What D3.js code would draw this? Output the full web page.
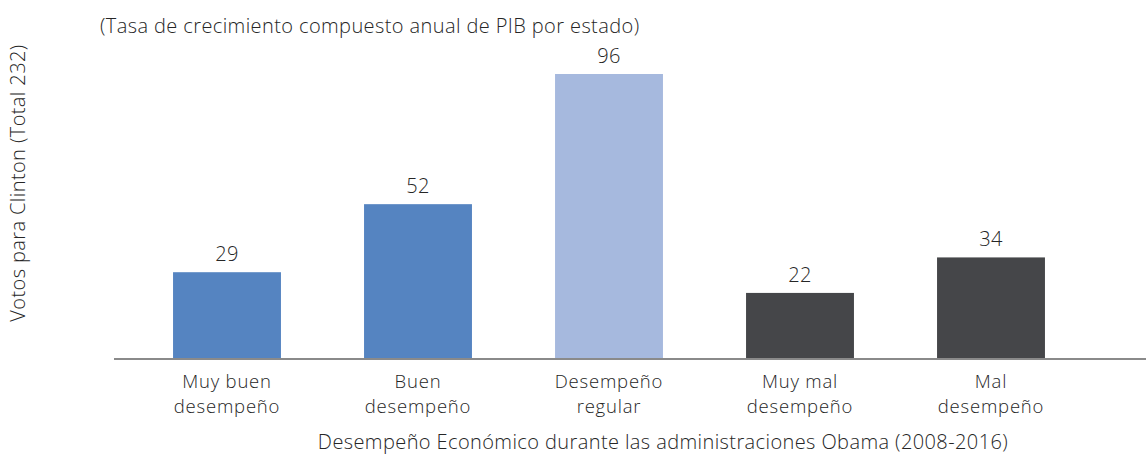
<!DOCTYPE html>
<html>
<head>
<meta charset="utf-8">
<script src="https://cdn.jsdelivr.net/npm/d3@7"></script>
<style>
  body { margin: 0; background: #fff; }
  svg text { font-family: "Open Sans", "Liberation Sans", Arial, sans-serif; font-weight: 300; fill: #262626; letter-spacing: 0.4px; }
  svg text.cat { letter-spacing: 0.8px; }
</style>
</head>
<body>
<div id="chart"></div>
<script>
// Data
const categories = [
    ["Muy buen", "desempeño"],
    ["Buen", "desempeño"],
    ["Desempeño", "regular"],
    ["Muy mal", "desempeño"],
    ["Mal", "desempeño"]
];
const votes = [29, 52, 96, 22, 34];
const barColors = ["#5584c1", "#5584c1", "#a6b9de", "#454649", "#454649"];

const width = 1146, height = 456;
const baseY = 358;
const fontSize = 20;

const svg = d3.select("#chart").append("svg")
    .attr("width", width)
    .attr("height", height);

// Scales
const x = d3.scaleBand()
    .domain(d3.range(categories.length))
    .range([131.5, 1086.5])
    .paddingInner(0.435)
    .paddingOuter(0.2175);

const y = d3.scaleLinear()
    .domain([0, 96])
    .range([baseY, 74]);

// Bars
svg.selectAll("rect.bar")
    .data(votes)
    .join("rect")
    .attr("class", "bar")
    .attr("x", (d, i) => x(i))
    .attr("y", d => y(d))
    .attr("width", x.bandwidth())
    .attr("height", d => y(0) - y(d))
    .attr("fill", (d, i) => barColors[i]);

// Value labels
svg.selectAll("text.val")
    .data(votes)
    .join("text")
    .attr("class", "val")
    .attr("x", (d, i) => x(i) + x.bandwidth() / 2)
    .attr("y", d => y(d) - 11)
    .attr("text-anchor", "middle")
    .attr("font-size", fontSize)
    .text(d => d);

// Baseline
svg.append("line")
    .attr("x1", 114).attr("x2", width)
    .attr("y1", baseY + 1).attr("y2", baseY + 1)
    .attr("stroke", "#8a8a8a")
    .attr("stroke-width", 2);

// Category labels, two lines each
const catG = svg.selectAll("text.cat")
    .data(categories)
    .join("text")
    .attr("class", "cat")
    .attr("text-anchor", "middle")
    .attr("font-size", 18.5)
    .attr("transform", (d, i) => `translate(${x(i) + x.bandwidth() / 2},${388})`);
catG.selectAll("tspan")
    .data(d => d)
    .join("tspan")
    .attr("x", 0)
    .attr("dy", (d, j) => j === 0 ? 0 : 25)
    .text(d => d);

// Titles
svg.append("text")
    .attr("x", 100).attr("y", 33)
    .attr("font-size", fontSize)
    .text("(Tasa de crecimiento compuesto anual de PIB por estado)");

svg.append("text")
    .attr("x", 663).attr("y", 449)
    .attr("text-anchor", "middle")
    .attr("font-size", fontSize)
    .text("Desempeño Económico durante las administraciones Obama (2008-2016)");

svg.append("text")
    .attr("transform", "translate(25,183) rotate(-90)")
    .attr("text-anchor", "middle")
    .attr("font-size", fontSize)
    .text("Votos para Clinton (Total 232)");
</script>
</body>
</html>
